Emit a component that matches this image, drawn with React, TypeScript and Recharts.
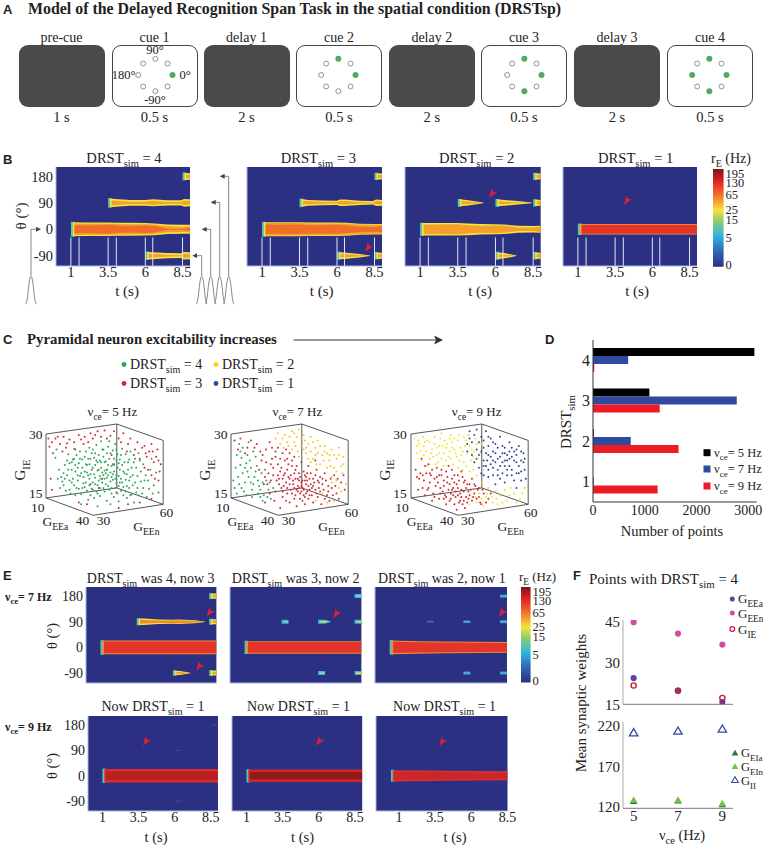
import React from "react";
import { ComposedChart, ScatterChart, BarChart, Bar, Scatter, Area, XAxis, YAxis, ReferenceLine, CartesianGrid } from "recharts";

const SERIF = "'Liberation Serif', serif";
const SANS = "'Liberation Sans', sans-serif";
const NAVY = "#2b3083";
const AXIS_BLUE = "#a9b6df";

/* ---------- Panel A ---------- */
const taskLabels = ["pre-cue", "cue 1", "delay 1", "cue 2", "delay 2", "cue 3", "delay 3", "cue 4"];
const taskDurations = ["1 s", "0.5 s", "2 s", "0.5 s", "2 s", "0.5 s", "2 s", "0.5 s"];
const taskDark = [true, false, true, false, true, false, true, false];
const boxLefts = [18.5, 111.5, 203.5, 296, 388.8, 481, 574, 667];
const ringAngles = [0, 45, 90, 135, 180, 225, 270, 315];
const ringX = [1, 0.71, 0, -0.71, -1, -0.71, 0, 0.71];
const ringY = [0, 0.71, 1, 0.71, 0, -0.71, -1, -0.71];
const cueActive = [[0], [0, 90], [0, 90, 270], [0, 90, 270, 180]];
const cueCenters = [155, 338.5, 524, 709];

/* ---------- Heatmaps ---------- */
type Tr = { th: number; t: number[]; o: number[]; i?: number[]; c?: number[]; of?: string; if?: string; edge?: string };
const tickT = [1, 3.5, 6, 8.5];
const tickTheta = [-90, 0, 90, 180];
const cueLines = [1, 1.55, 3.5, 4.05, 6, 6.5, 8.5];

const Y = "#f6e23c"; const O = "#f5a02c"; const R = "#e4352a"; const C = "#42aede"; const G = "#5cc4a8";

const b4: Tr[] = [
  { th: 0, t: [1.1, 2, 3.5, 4.2, 5, 6, 6.6, 7.5, 8.5, 9], o: [24, 23, 23, 22, 22, 21, 20, 16, 15, 15], i: [20, 19, 19, 18, 17, 17, 16, 10, 9, 10], c: [14, 13, 15, 12, 11, 13, 11, 2, 2, 6], edge: G },
  { th: 90, t: [3.6, 4, 5, 6, 6.5, 7.5, 8.4, 8.6, 9], o: [15, 13, 10, 10, 12, 9, 9, 13, 12], i: [8, 7, 4, 4, 7, 3, 3, 7, 6], edge: G },
  { th: -90, t: [6.1, 6.5, 7.5, 8.4, 8.6, 9], o: [13, 12, 9, 8, 13, 12], i: [7, 6, 3, 2, 7, 6], edge: G },
  { th: 180, t: [8.6, 9], o: [12, 11], i: [6, 5], edge: G },
];
const b3: Tr[] = [
  { th: 0, t: [1.1, 2, 3.5, 4.2, 5, 6, 6.6, 7.5, 8.5, 9], o: [24, 24, 24, 23, 23, 23, 22, 19, 18, 18], i: [21, 21, 21, 20, 20, 20, 19, 16, 15, 15], c: [16, 15, 16, 14, 14, 15, 13, 9, 8, 10], edge: G },
  { th: 90, t: [3.6, 4.1, 5, 6, 6.2, 6.5, 7.5, 8.4, 8.6, 9], o: [13, 10, 8, 7, 11, 11, 7, 6, 11, 10], i: [6, 5, 3, 2, 6, 6, 2, 1, 5, 5], edge: G },
  { th: -90, t: [6.1, 6.5, 7.5, 8.2], o: [12, 11, 6, 1], i: [6, 5, 2, 0], edge: G },
  { th: -90, t: [8.6, 9], o: [11, 10], i: [5, 5], edge: G },
  { th: 180, t: [8.6, 9], o: [11, 10], i: [5, 5], edge: G },
];
const b2: Tr[] = [
  { th: 0, t: [1.1, 2, 3.5, 4.2, 5, 6, 6.6, 7.5, 8.5, 9], o: [21, 21, 21, 20, 18, 17, 16, 12, 11, 12], i: [16, 16, 17, 14, 12, 13, 12, 6, 6, 9], edge: G },
  { th: 90, t: [3.6, 4.2, 5.2], o: [12, 9, 1], i: [6, 4, 0], edge: G },
  { th: 90, t: [6.1, 6.6, 7.5, 8.4], o: [12, 10, 6, 1], i: [6, 4, 1, 0], edge: G },
  { th: 90, t: [8.6, 9], o: [11, 10], i: [5, 5], edge: G },
  { th: -90, t: [6.1, 6.6, 7.4], o: [12, 9, 1], i: [6, 3, 0], edge: G },
  { th: -90, t: [8.6, 9], o: [11, 10], i: [5, 5], edge: G },
  { th: 180, t: [8.6, 9], o: [11, 10], i: [5, 5], edge: G },
];
const b1: Tr[] = [{ th: 0, t: [1.1, 9], o: [18, 18], i: [15, 15], of: "#f6a030", if: R, edge: G }];

const e43: Tr[] = [
  { th: 0, t: [1.1, 9], o: [24, 24], i: [21, 21], of: "#f08a30", if: R, edge: G },
  { th: 90, t: [3.6, 4, 5, 6, 6.4, 7.5, 8.2], o: [11, 11, 8, 7, 8, 5, 1], i: [7, 6, 4, 4, 5, 3, 0], of: Y, if: "#f08a30", edge: G },
  { th: 90, t: [8.6, 9], o: [9, 9], i: [4, 4], edge: G },
  { th: -90, t: [6.1, 6.5, 7.2], o: [8, 7, 1], i: [4, 4, 0], edge: G },
  { th: -90, t: [8.6, 9], o: [9, 9], i: [4, 4], edge: G },
  { th: 180, t: [8.6, 9], o: [9, 9], i: [4, 4], edge: G },
];
const e32: Tr[] = [
  { th: 0, t: [1.1, 9], o: [22, 22], i: [19, 19], of: "#f08a30", if: R, edge: G },
  { th: 90, t: [3.5, 4], o: [7, 7], i: [3, 3], of: C, if: "#7fd4c0" },
  { th: 90, t: [6, 6.5, 6.9], o: [7, 7, 1], i: [3, 3, 0], of: C, if: "#d8e040" },
  { th: 90, t: [8.5, 9], o: [7, 7], i: [3, 3], of: C, if: "#d8e040" },
  { th: -90, t: [6, 6.5], o: [7, 7], i: [3, 3], of: C, if: "#7fd4c0" },
  { th: -90, t: [8.5, 9], o: [7, 7], i: [3, 3], of: C, if: "#d8e040" },
  { th: 180, t: [8.5, 9], o: [7, 7], i: [3, 3], of: C, if: "#7fd4c0" },
];
const e21: Tr[] = [
  { th: 0, t: [1.1, 3, 5, 7, 9], o: [24, 22, 21, 20, 19], i: [20, 18, 17, 16, 15], of: "#f08a30", if: R, edge: G },
  { th: 90, t: [3.5, 4], o: [4, 4], of: "#3a62b4" },
  { th: 90, t: [6, 6.5], o: [4, 4], of: C },
  { th: 90, t: [8.5, 9], o: [5, 5], of: C },
  { th: -90, t: [6, 6.5], o: [5, 5], of: C },
  { th: -90, t: [8.5, 9], o: [5, 5], of: C },
  { th: 180, t: [8.5, 9], o: [5, 5], of: C },
];
const n1: Tr[] = [
  { th: 0, t: [1.1, 9], o: [24, 24], i: [15, 15], of: "#dd2a2a", if: "#b82022", edge: G },
  { th: 90, t: [6, 6.5], o: [2, 2], of: "#3a4a9e" },
  { th: 180, t: [8.5, 9], o: [2, 2], of: "#3a4a9e" },
  { th: -90, t: [6, 6.5], o: [2, 2], of: "#3a4a9e" },
];
const n2: Tr[] = [{ th: 0, t: [1.1, 9], o: [22, 22], i: [13, 13], of: "#cf2628", if: "#8f1a1c", edge: G }];
const n3: Tr[] = [{ th: 0, t: [0.55, 3, 6, 8.5], o: [20, 19, 17, 16], i: [14, 14, 12, 11], of: "#e03030", if: "#cc2629", edge: G }];

const colorStops: [number, string][] = [[0, "#7c1418"], [0.12, "#e01f26"], [0.27, "#f4722a"], [0.42, "#f8e33a"], [0.53, "#8fcf6a"], [0.68, "#2fb6e0"], [0.83, "#2f6db8"], [1, "#2a2f84"]];
const cbPositions = [95.6, 85.7, 73.4, 58, 47.8, 29.4, 1.7];
const cbLabels = ["195", "130", "65", "25", "15", "5", "0"];
const cbExtent = [{ x: 0, top: 100 }, { x: 1, top: 100 }];

/* ---------- Panel C ---------- */
type P = [number, number];
const cubeEdges: [P, P][] = [
  [[0, 89], [60.4, 100]], [[60.4, 100], [100, 82]], [[60.4, 100], [60.4, 30]], [[60.4, 30], [0, 19]], [[60.4, 30], [100, 12]],
  [[0, 19], [40.3, 0]], [[40.3, 0], [100, 12]], [[100, 82], [100, 12]],
];
const cubeThickEdge: [P, P] = [[0, 89], [0, 19]];
const cube1Red: P[] = [[5,80],[8,84],[12,78],[15,86],[20,83],[24,80],[28,88],[6,68],[17,74],[33,86],[38,90],[44,92],[50,93],[58,92],[66,90],[72,84],[78,80],[84,76],[90,78],[95,72],[88,70],[82,74],[76,72],[92,58],[97,48],[93,40],[87,50],[70,78],[62,84],[55,87],[47,86],[40,84],[32,78],[25,72],[52,50],[45,30],[60,25],[35,12],[28,14],[70,12],[62,8],[80,14],[90,18],[4,40],[5,28],[10,86],[3,75],[14,70],[75,66],[86,64],[96,60],[2,84],[18,79],[30,83],[36,80],[94,64],[91,70],[85,68],[80,62],[98,56],[96,38],[90,44],[84,52],[69,70],[64,80],[42,88],[52,84],[58,56],[48,40],[38,34],[56,66]];
const cube1Green: P[] = [[12,30],[18,44],[23,61],[9,72],[27,38],[31,52],[35,27],[29,70],[41,63],[38,45],[44,33],[47,58],[52,41],[49,72],[56,24],[58,55],[61,67],[54,81],[63,36],[66,48],[69,19],[71,61],[74,33],[77,52],[82,24],[85,44],[90,62],[16,55],[21,24],[25,48],[33,64],[36,17],[40,52],[43,77],[46,21],[50,49],[53,32],[57,71],[60,44],[64,27],[67,58],[72,42],[79,68],[14,37],[19,67],[24,33],[28,57],[32,42],[37,74],[39,29],[42,41],[45,66],[48,36],[51,59],[55,47],[59,30],[62,15],[65,73],[68,39],[73,23],[76,62],[81,37],[88,29],[94,47],[11,50],[17,27],[22,50],[26,66],[30,23],[34,36],[37,56],[41,19],[44,49],[47,81],[50,26],[54,62],[57,39],[61,52],[66,31],[70,50],[75,14],[83,56],[8,63],[20,38],[24,73],[28,29],[31,61],[35,47],[39,68],[43,26],[46,43],[49,64],[52,16],[56,54],[59,78],[63,61],[68,26],[72,70],[78,43],[86,20],[92,33],[15,46],[22,58],[27,44],[33,31],[36,62],[40,36],[44,58],[48,47],[52,68],[55,37],[58,20],[62,43],[65,55],[71,30],[80,60],[96,25],[13,42],[20,57],[26,30],[30,46],[34,70],[38,22],[42,55],[46,30],[50,40],[53,75],[57,45],[60,60],[64,40],[68,67],[73,52],[78,30],[84,38],[30,12],[44,10],[55,12],[10,40],[15,33],[19,50],[23,40],[25,55],[29,43],[32,35],[35,55],[37,40],[40,28],[41,45],[43,60],[45,38],[47,52],[49,30],[51,46],[53,55],[54,28],[56,42],[58,62],[60,35],[61,24],[63,50],[65,36],[67,46],[69,32],[70,58],[72,22],[74,44],[76,36],[79,22],[81,48],[83,30],[87,38],[89,50],[91,24],[25,22],[33,48],[37,33],[39,50],[42,34],[46,60],[48,72],[51,34],[52,50],[55,68],[58,48],[60,72],[62,32],[64,66],[66,22],[69,45],[71,38],[75,58],[77,25],[38,62],[36,44],[34,56],[31,30],[29,62],[27,52],[24,62],[22,36],[20,28],[18,60],[16,40],[47,40],[44,24],[42,68],[40,72],[62,57],[59,40],[57,56],[56,30],[53,44],[50,58],[49,44],[45,50]];
const cube2Green: P[] = [[3,30],[6,42],[8,55],[5,66],[10,74],[12,36],[14,48],[16,60],[18,28],[20,42],[22,54],[24,32],[26,46],[11,26],[9,63],[15,80],[7,78],[19,70],[28,22],[30,38],[32,28],[34,18],[23,24],[17,36],[13,57],[4,52],[21,64],[25,20],[29,50],[36,30],[2,38],[7,34],[10,46],[12,52],[15,42],[17,52],[19,34],[21,48],[23,38],[25,28],[27,36],[8,70],[14,66],[31,20],[27,16],[5,24],[9,30],[13,22],[18,20],[33,36]];
const cube2Red: P[] = [[8,84],[14,74],[22,78],[27,66],[33,80],[38,70],[30,58],[36,52],[42,62],[48,50],[44,40],[50,34],[54,46],[58,38],[61,30],[64,42],[57,26],[62,22],[68,34],[72,28],[66,18],[74,20],[78,34],[82,22],[86,30],[90,24],[94,36],[88,44],[80,46],[73,50],[66,54],[60,58],[54,64],[47,72],[40,44],[34,38],[38,26],[44,20],[50,14],[56,10],[42,8],[48,24],[54,30],[60,36],[65,26],[70,14],[77,12],[84,16],[92,18],[97,28],[96,44],[76,42],[70,40],[64,34],[58,46],[52,54],[46,60],[41,34],[37,16],[32,46],[28,34],[24,50],[26,60],[35,62],[43,52],[49,42],[55,22],[59,18],[63,12],[68,46],[72,60],[62,48],[57,32],[51,28],[45,32],[39,38],[33,24],[29,14],[67,28],[75,30],[81,38],[87,22],[60,26],[63,38],[61,16],[53,38],[47,16],[69,22],[56,54],[50,68],[17,82],[12,68],[6,72],[3,82],[40,56],[42,48],[45,44],[47,36],[49,56],[51,44],[53,34],[55,40],[56,28],[58,30],[59,42],[60,32],[62,28],[63,44],[64,24],[65,38],[66,32],[67,40],[69,30],[71,36],[73,24],[74,38],[76,26],[79,28],[80,18],[83,32],[85,40],[89,32],[91,40],[38,64],[41,40],[43,30],[44,26],[46,46],[48,30],[50,40],[52,24],[54,18],[55,50],[57,40],[59,24],[61,38],[63,20],[65,46],[67,22],[70,32],[72,44],[75,36],[78,40],[83,26],[36,44],[34,56],[31,34],[29,42],[25,70],[20,74],[30,72],[35,74],[44,68],[48,62],[52,60],[40,74]];
const cube2Yellow: P[] = [[40,90],[46,88],[52,92],[58,94],[62,88],[68,86],[74,82],[80,76],[86,72],[92,74],[96,64],[90,62],[84,60],[78,66],[72,74],[66,78],[60,76],[54,80],[48,80],[42,78],[64,68],[70,62],[76,56],[82,52],[88,52],[94,54],[58,64],[52,72],[66,62],[74,68],[82,68],[44,84],[56,86],[90,38],[86,42],[78,24],[94,26],[50,86],[55,76],[60,84],[64,74],[68,70],[72,66],[76,76],[80,70],[84,66],[88,66],[92,66],[96,56],[85,54],[79,60],[73,56],[68,58],[62,72],[57,70],[49,76],[45,74],[38,84],[70,80],[63,82],[54,90],[90,48],[95,46],[98,34],[92,30],[86,36],[82,14],[88,16],[72,16]];
const cube3Yellow: P[] = [[3,84],[7,78],[10,86],[13,70],[16,80],[19,64],[22,74],[25,84],[28,68],[31,78],[34,88],[37,72],[40,82],[43,66],[46,76],[49,88],[52,72],[55,84],[5,68],[9,60],[14,54],[18,72],[23,58],[27,76],[30,60],[33,70],[36,56],[39,64],[42,74],[45,58],[48,68],[51,60],[54,70],[57,62],[60,78],[26,90],[20,86],[12,80],[35,80],[44,50],[50,48],[56,44],[60,36],[62,50],[58,24],[64,20],[70,14],[76,22],[82,16],[88,24],[93,18],[97,30],[80,28],[72,26],[66,30],[50,12],[56,14],[62,10],[74,12],[85,30],[5,76],[8,70],[11,76],[14,82],[17,68],[20,78],[22,66],[24,76],[26,62],[29,82],[32,64],[35,74],[38,68],[41,60],[44,70],[47,82],[50,76],[53,64],[56,78],[59,68],[30,74],[33,84],[37,84],[41,88],[45,86],[24,68],[21,56],[16,62],[11,66],[6,82],[28,54],[34,62],[40,52],[47,54],[53,50],[65,24],[69,20],[73,18],[78,14],[84,22],[90,14],[95,24],[60,18],[55,20]];
const cube3Blue: P[] = [[50,92],[56,94],[60,86],[64,92],[68,84],[72,78],[76,86],[80,74],[84,80],[88,70],[92,76],[96,68],[62,74],[66,66],[70,70],[74,62],[78,68],[82,60],[86,64],[90,58],[94,60],[97,50],[92,46],[86,50],[80,54],[74,50],[68,56],[62,60],[56,72],[52,80],[58,66],[64,54],[70,44],[76,40],[82,44],[88,38],[94,38],[98,40],[78,58],[72,68],[66,76],[84,70],[90,66],[60,46],[66,42],[54,58],[48,70],[72,34],[80,36],[90,30],[54,88],[58,80],[62,82],[66,86],[70,80],[74,74],[78,76],[82,66],[86,74],[90,72],[94,70],[96,58],[92,54],[88,60],[84,54],[80,60],[76,54],[72,58],[68,64],[64,68],[60,70],[56,62],[52,66],[58,52],[62,44],[66,50],[70,52],[74,44],[78,46],[82,50],[86,44],[90,46],[94,48],[84,62],[80,68],[76,64],[70,60],[65,60],[62,54],[48,78],[50,84],[97,62]];
const cube3Red: P[] = [[4,50],[7,40],[10,30],[13,46],[16,36],[19,24],[22,42],[25,30],[28,18],[31,36],[34,24],[37,12],[40,30],[43,20],[46,8],[49,26],[52,16],[55,32],[58,20],[61,28],[64,14],[22,52],[26,44],[30,48],[35,40],[40,44],[45,36],[50,34],[15,56],[9,62],[6,28],[12,22],[18,16],[24,18],[30,12],[36,30],[42,24],[48,14],[54,24],[60,12],[38,20],[33,16],[27,26],[21,32],[17,44],[11,38],[44,42],[52,40],[47,30],[41,14],[57,28],[35,50],[28,38],[14,28],[68,24],[39,6],[45,16],[50,22],[8,46],[12,54],[15,30],[18,50],[20,20],[23,36],[25,24],[26,50],[28,32],[29,22],[31,42],[32,28],[33,34],[34,18],[35,28],[36,22],[37,36],[38,26],[39,34],[40,22],[41,38],[42,16],[43,28],[44,12],[45,26],[46,38],[47,20],[48,34],[49,18],[51,28],[53,20],[54,34],[56,18],[58,30],[59,14],[62,24],[66,18],[24,44],[20,40],[30,20],[37,44],[43,48],[16,46],[10,44],[5,42],[32,54]];

/* ---------- Panel D ---------- */
const dCats = ["4", "3", "2", "1"];
const d5Hz = [3120, 1090, 15, 0];
const d7Hz = [680, 2780, 730, 15];
const d9Hz = [25, 1290, 1655, 1250];
const dRows = dCats.map((c, i) => ({ c, a: d5Hz[i], b: d7Hz[i], d: d9Hz[i] }));

/* ---------- Panel F ---------- */
const vce = [5, 7, 9];
const gEEa = [24.5, 20, 15.8];
const gEEn = [44.7, 40.6, 36.6];
const gIE = [21.8, 19.9, 17.3];
const gII = [211.5, 213.5, 216];
const gEIa = [127, 127.5, 123];
const gEIn = [128.5, 128.5, 124];
const zip = (ys: number[]) => vce.map((x, i) => ({ x, y: ys[i] }));

/* ---------- helpers ---------- */
const tickStyle = (fontSize: number) => ({ fontSize, fill: "#222", fontFamily: SERIF });

function traceRows(t: number[], th: number, h: number[]) {
  return t.map((x, k) => ({ t: x, range: [th - h[k], th + h[k]] }));
}

function traceAreas(traces: Tr[]) {
  const out: React.ReactNode[] = [];
  const area = (key: string, data: any[], fill: string) => (
    <Area key={key} data={data} dataKey="range" type="linear" fill={fill} fillOpacity={1} stroke="none" dot={false} activeDot={false} isAnimationActive={false} />
  );
  traces.forEach((tr, n) => {
    const t0 = tr.t[0];
    if (tr.edge) {
      const h0 = tr.o[0] + 1.5;
      out.push(area(`e${n}`, traceRows([t0 - 0.1, t0 + 0.14], tr.th, [h0, h0]), tr.edge));
    }
    const shifted = tr.t.map((x, k) => (k === 0 ? x + 0.03 : x));
    out.push(area(`o${n}`, traceRows(shifted, tr.th, tr.o), tr.of ?? Y));
    const inner = tr.t.map((x, k) => (k === 0 ? x + 0.14 : x));
    if (tr.i) out.push(area(`i${n}`, traceRows(inner, tr.th, tr.i), tr.if ?? O));
    if (tr.c) out.push(area(`c${n}`, traceRows(inner, tr.th, tr.c), "#ee6e2a"));
  });
  return out;
}

function Heat({ l, t, w, h, traces, xTicks, yTicks, lines, xDomain = [0, 9], fs = 14.5 }: any) {
  const yW = 40, xH = 26, right = 14;
  return (
    <div style={{ position: "absolute", left: l - yW, top: t }}>
      <ComposedChart width={w + yW + right} height={h + xH} margin={{ top: 0, right, bottom: 0, left: 0 }}>
        <CartesianGrid horizontal={false} vertical={false} fill={NAVY} />
        <XAxis type="number" dataKey="t" domain={xDomain} allowDataOverflow ticks={tickT} interval={0} height={xH} tick={xTicks ? tickStyle(fs) : false} tickLine={false} tickSize={0} tickMargin={1} axisLine={{ stroke: AXIS_BLUE }} />
        <YAxis type="number" domain={[-125, 212]} allowDataOverflow ticks={tickTheta} interval={0} width={yW} tick={yTicks ? tickStyle(fs) : false} tickLine={false} tickSize={0} tickMargin={3} axisLine={{ stroke: AXIS_BLUE }} />
        {traceAreas(traces)}
        {lines && cueLines.map((x) => (
          <ReferenceLine key={x} segment={[{ x, y: -125 }, { x, y: -28 }]} stroke="#dfe6f7" strokeWidth={1} ifOverflow="visible" />
        ))}
      </ComposedChart>
    </div>
  );
}

function ColorBar({ l, t, w, h, fs }: any) {
  const pad = 8;
  return (
    <div style={{ position: "absolute", left: l, top: t - pad }}>
      <ComposedChart width={w + 30} height={h + 2 * pad} margin={{ top: pad, right: 0, bottom: pad, left: 0 }} data={cbExtent}>
        <XAxis hide type="number" dataKey="x" domain={[0, 1]} />
        <YAxis orientation="right" type="number" domain={[0, 100]} ticks={cbPositions} interval={0} width={30} tickFormatter={(v: number) => cbLabels[cbPositions.indexOf(v)]} tick={tickStyle(fs)} tickLine={false} tickSize={0} axisLine={false} tickMargin={2} />
        <Area dataKey="top" type="linear" fill="url(#cbGrad)" fillOpacity={1} stroke="none" dot={false} activeDot={false} isAnimationActive={false} />
      </ComposedChart>
    </div>
  );
}

function Cube({ l, t, groups }: any) {
  const W = 117.2, H = 91.3, m = 3;
  const dot = (fill: string) => (p: any) => <circle cx={p.cx} cy={p.cy} r={1} fill={fill} />;
  return (
    <div style={{ position: "absolute", left: l - m, top: t - m }}>
      <ScatterChart width={W + 2 * m} height={H + 2 * m} margin={{ top: m, right: m, bottom: m, left: m }}>
        <XAxis hide type="number" dataKey="x" domain={[0, 100]} />
        <YAxis hide type="number" dataKey="y" domain={[0, 100]} />
        <ReferenceLine segment={[{ x: cubeThickEdge[0][0], y: cubeThickEdge[0][1] }, { x: cubeThickEdge[1][0], y: cubeThickEdge[1][1] }]} stroke="#aaa" strokeWidth={2} ifOverflow="visible" />
        {cubeEdges.map(([a, b], i) => (
          <ReferenceLine key={i} segment={[{ x: a[0], y: a[1] }, { x: b[0], y: b[1] }]} stroke="#444" strokeWidth={0.9} ifOverflow="visible" />
        ))}
        {groups.map(([pts, color]: [P[], string], i: number) => (
          <Scatter key={i} data={pts.map(([x, y]) => ({ x, y }))} fill={color} shape={dot(color)} isAnimationActive={false} />
        ))}
      </ScatterChart>
    </div>
  );
}

const triPath = (cx: number, cy: number, r: number) => `M${cx},${cy - r}L${cx + r * 1.05},${cy + r * 0.8}L${cx - r * 1.05},${cy + r * 0.8}Z`;
const fCircle = (fill: string) => (p: any) => <circle cx={p.cx} cy={p.cy} r={3.1} fill={fill} />;
const fRing = (stroke: string) => (p: any) => <circle cx={p.cx} cy={p.cy} r={2.6} fill="none" stroke={stroke} strokeWidth={1.4} />;
const fTri = (fill: string) => (p: any) => <path d={triPath(p.cx, p.cy, 3.6)} fill={fill} />;
const fTriHollow = (stroke: string) => (p: any) => <path d={triPath(p.cx, p.cy, 4)} fill="none" stroke={stroke} strokeWidth={1.3} />;

function Sub({ x, y, b, s, r = "", size = 15, anchor = "middle", rot, weight }: any) {
  return (
    <text x={x} y={y} fontSize={size} fontFamily={SERIF} fill="#222" textAnchor={anchor} fontWeight={weight} transform={rot ? `rotate(${rot} ${x} ${y})` : undefined}>
      {b}
      <tspan dy={size * 0.28} fontSize={size * 0.72}>{s}</tspan>
      <tspan dy={-size * 0.28}>{r}</tspan>
    </text>
  );
}
const Txt = ({ x, y, c, size = 15, anchor = "middle", rot, weight, fam = SERIF }: any) => (
  <text x={x} y={y} fontSize={size} fontFamily={fam} fill="#222" textAnchor={anchor} fontWeight={weight} transform={rot ? `rotate(${rot} ${x} ${y})` : undefined}>{c}</text>
);
const Letter = ({ x, y, c }: any) => <Txt x={x} y={y} c={c} size={13} anchor="start" weight="bold" fam={SANS} />;
const RedHead = ({ x, y }: any) => (
  <path transform={`translate(${x} ${y}) rotate(35)`} d="M0,5 L-3.4,-4.4 L0,-2.4 L3.4,-4.4 Z" fill="#d91f3c" />
);
const bump = (cx: number) => `M${cx - 5.5},304 C${cx - 3},304 ${cx - 2.5},276.5 ${cx},276.5 C${cx + 2.5},276.5 ${cx + 3},304 ${cx + 5.5},304`;

const arrowsB = [
  { x: 31, y: 229.3, to: 40 },
  { x: 201.7, y: 255.7, to: 193.3 },
  { x: 210.7, y: 229.3, to: 202.7 },
  { x: 219.7, y: 202.3, to: 211.7 },
  { x: 228.7, y: 176.3, to: 220.7 },
];
const redHeadsAt = [[368, 247.7], [491.7, 194], [626.7, 201], [209.6, 612.7], [199, 666.7], [336, 614], [501.8, 612.7], [145.7, 741.7], [319, 741.7], [442, 742]];

const bTitles = [["4", 124], ["3", 318.3], ["2", 476.7], ["1", 635.7]];
const bCenters = [127, 321.7, 480, 637];
const e1Titles = [["DRST", "sim", " was 4, now 3", 150.7], ["DRST", "sim", " was 3, now 2", 295.7], ["DRST", "sim", " was 2, now 1", 441.8]];
const e2Centers = [152.9, 298.6, 444.6];
const e2Xlabels = [156, 302.5, 455];

const cubes = [
  { l: 46.4, title: "5", groups: [[cube1Red, "#cf2a32"], [cube1Green, "#28a858"]] },
  { l: 231.4, title: "7", groups: [[cube2Green, "#28a858"], [cube2Yellow, "#f5c422"], [cube2Red, "#cf2a32"]] },
  { l: 410.7, title: "9", groups: [[cube3Blue, "#33449c"], [cube3Yellow, "#f8e02a"], [cube3Red, "#cf2a32"]] },
];

export default function App() {
  const dDark = "#333";
  return (
    <div style={{ position: "absolute", left: 0, top: 0, width: 763, height: 846, background: "#fff", overflow: "hidden" }}>
      {/* Panel A boxes */}
      {boxLefts.map((x, i) => (
        <div key={i} style={{ position: "absolute", left: x, top: 45, width: 86, height: 61.5, boxSizing: "border-box", borderRadius: 9, background: taskDark[i] ? "#4a4a4a" : "#fff", border: taskDark[i] ? "none" : "1px solid #444" }} />
      ))}
      {cueCenters.map((cx, i) => {
        const rows = ringAngles.map((a, k) => ({ x: ringX[k], y: ringY[k], on: cueActive[i].includes(a) }));
        const W = 44.7, H = 42;
        const shape = (p: any) => p.on
          ? <circle cx={p.cx} cy={p.cy} r={3} fill="#57a85c" />
          : <circle cx={p.cx} cy={p.cy} r={2.5} fill="#fff" stroke="#777" strokeWidth={0.8} />;
        return (
          <div key={i} style={{ position: "absolute", left: cx - W / 2, top: 75.3 - H / 2 }}>
            <ScatterChart width={W} height={H} margin={{ top: 0, right: 0, bottom: 0, left: 0 }}>
              <XAxis hide type="number" dataKey="x" domain={[-1.3, 1.3]} />
              <YAxis hide type="number" dataKey="y" domain={[-1.3, 1.3]} />
              <Scatter data={rows} shape={shape} isAnimationActive={false} />
            </ScatterChart>
          </div>
        );
      })}

      {/* Panel B */}
      <Heat l={56} t={167} w={134} h={99} traces={b4} xTicks yTicks lines />
      <Heat l={247} t={167} w={135} h={99} traces={b3} xTicks lines />
      <Heat l={405} t={167} w={135.7} h={99} traces={b2} xTicks lines />
      <Heat l={563.3} t={167} w={134} h={99} traces={b1} xTicks lines />
      <ColorBar l={712.7} t={169} w={10.6} h={97.7} fs={12.5} />

      {/* Panel C */}
      {cubes.map((c, i) => <Cube key={i} l={c.l} t={423.7} groups={c.groups} />)}

      {/* Panel D */}
      <div style={{ position: "absolute", left: 573.3, top: 340 }}>
        <BarChart width={189.7} height={192} layout="vertical" data={dRows} barSize={8} barGap={0} margin={{ top: 0, right: 6, bottom: 0, left: 0 }}>
          <XAxis type="number" domain={[0, 3165]} allowDataOverflow ticks={[0, 1000, 2000, 3000]} interval={0} height={30} tick={tickStyle(14)} tickLine={false} tickSize={0} tickMargin={3} axisLine={{ stroke: dDark }} />
          <YAxis type="category" dataKey="c" width={20} tick={tickStyle(16)} tickLine={false} tickSize={0} tickMargin={3} axisLine={{ stroke: dDark }} />
          <Bar dataKey="a" fill="#000" isAnimationActive={false} />
          <Bar dataKey="b" fill="#2f4b9f" isAnimationActive={false} />
          <Bar dataKey="d" fill="#ed1c24" isAnimationActive={false} />
        </BarChart>
      </div>

      {/* Panel E */}
      <Heat l={86} t={586.7} w={130.4} h={96} traces={e43} yTicks fs={14} />
      <Heat l={229.6} t={586.7} w={131.4} h={96} traces={e32} />
      <Heat l={375} t={586.7} w={132} h={96} traces={e21} />
      <ColorBar l={521.4} t={587.3} w={9.6} h={95.4} fs={12.5} />
      <Heat l={87.9} t={716} w={130} h={95} traces={n1} xTicks yTicks fs={14} />
      <Heat l={231.8} t={716} w={130.2} h={95} traces={n2} xTicks fs={14} />
      <Heat l={376.4} t={716} w={131.5} h={95} traces={n3} xTicks xDomain={[-0.58, 8.5]} fs={14} />

      {/* Panel F */}
      <div style={{ position: "absolute", left: 593.3, top: 610 }}>
        <ScatterChart width={140} height={106.3} margin={{ top: 10, right: 0, bottom: 0, left: 0 }}>
          <XAxis type="number" dataKey="x" domain={[4.52, 9.48]} ticks={vce} interval={0} height={12} tick={false} tickLine={false} axisLine={{ stroke: "#777" }} />
          <YAxis type="number" dataKey="y" domain={[15, 45.5]} allowDataOverflow ticks={[15, 30, 45]} interval={0} width={30} tick={tickStyle(15)} tickLine={false} tickSize={0} tickMargin={3} axisLine={{ stroke: "#aaa" }} />
          <Scatter data={zip(gEEa)} shape={fCircle("#66409e")} isAnimationActive={false} />
          <Scatter data={zip(gEEn)} shape={fCircle("#cf4f9f")} isAnimationActive={false} />
          <Scatter data={zip(gIE)} shape={fRing("#c81e3a")} isAnimationActive={false} />
        </ScatterChart>
      </div>
      <div style={{ position: "absolute", left: 593.3, top: 712 }}>
        <ScatterChart width={140} height={117.3} margin={{ top: 9.7, right: 0, bottom: 0, left: 0 }}>
          <XAxis type="number" dataKey="x" domain={[4.52, 9.48]} ticks={vce} interval={0} height={21} tick={tickStyle(15)} tickLine={false} tickSize={0} tickMargin={2} axisLine={{ stroke: "#777" }} />
          <YAxis type="number" dataKey="y" domain={[118, 225]} allowDataOverflow ticks={[120, 170, 220]} interval={0} width={30} tick={tickStyle(15)} tickLine={false} tickSize={0} tickMargin={3} axisLine={{ stroke: "#aaa" }} />
          <Scatter data={zip(gEIa)} shape={fTri("#1f7a44")} isAnimationActive={false} />
          <Scatter data={zip(gEIn)} shape={fTri("#79bf4a")} isAnimationActive={false} />
          <Scatter data={zip(gII)} shape={fTriHollow("#34479e")} isAnimationActive={false} />
        </ScatterChart>
      </div>

      {/* Text and annotations */}
      <svg width={763} height={846} style={{ position: "absolute", left: 0, top: 0, pointerEvents: "none" }}>
        <defs>
          <linearGradient id="cbGrad" x1="0" y1="0" x2="0" y2="1">
            {colorStops.map(([o, c], i) => <stop key={i} offset={o} stopColor={c} />)}
          </linearGradient>
          <marker id="ah" markerWidth="5" markerHeight="5" refX="4" refY="2.5" orient="auto">
            <path d="M0,0 L5,2.5 L0,5 Z" fill="#444" />
          </marker>
        </defs>

        <Letter x={3} y={14} c="A" />
        <Txt x={28} y={14} c="Model of the Delayed Recognition Span Task in the spatial condition (DRSTsp)" size={15.9} anchor="start" weight="bold" />
        {boxLefts.map((x, i) => (
          <g key={i}>
            <Txt x={x + 43} y={42} c={taskLabels[i]} size={14} />
            <Txt x={x + 43} y={122} c={taskDurations[i]} size={14.5} />
          </g>
        ))}
        <Txt x={155} y={54} c="90°" size={12.5} />
        <Txt x={123.5} y={79} c="180°" size={12.5} />
        <Txt x={185} y={79} c="0°" size={12.5} />
        <Txt x={155} y={104} c="-90°" size={12.5} />

        <Letter x={3} y={164} c="B" />
        {bTitles.map(([n, x]: any) => <Sub key={n} x={x} y={163} b="DRST" s="sim" r={` = ${n}`} size={14.6} />)}
        {bCenters.map((x) => <Txt key={x} x={x} y={296} c="t (s)" size={15} />)}
        <Txt x={26} y={216} c="θ (°)" size={15} rot={-90} />
        <Sub x={731} y={163} b="r" s="E" r=" (Hz)" size={14} />
        {arrowsB.map((a, i) => (
          <path key={i} d={`M${a.x},276 L${a.x},${a.y} L${a.to},${a.y}`} fill="none" stroke="#888" strokeWidth={1} markerEnd="url(#ah)" />
        ))}
        {[31, 201.7, 210.7, 219.7, 228.7].map((x) => <path key={x} d={bump(x)} fill="none" stroke="#777" strokeWidth={0.9} />)}

        <Letter x={3} y={344} c="C" />
        <Txt x={27} y={344} c="Pyramidal neuron excitability increases" size={14.8} anchor="start" weight="bold" />
        <path d="M293.6,340 L438,340" stroke="#333" strokeWidth={1} />
        <path d="M443,340 L434,335.5 L436,340 L434,344.5 Z" fill="#333" />
        <circle cx={124} cy={364.5} r={2.4} fill="#28a858" />
        <circle cx={124} cy={383.5} r={2.4} fill="#cf2a32" />
        <circle cx={216} cy={364.5} r={2.4} fill="#f8d020" />
        <circle cx={216} cy={383.5} r={2.4} fill="#33449c" />
        <Sub x={130} y={369} b="DRST" s="sim" r=" = 4" anchor="start" size={14} />
        <Sub x={130} y={388} b="DRST" s="sim" r=" = 3" anchor="start" size={14} />
        <Sub x={222} y={369} b="DRST" s="sim" r=" = 2" anchor="start" size={14} />
        <Sub x={222} y={388} b="DRST" s="sim" r=" = 1" anchor="start" size={14} />
        {cubes.map((c, i) => (
          <g key={i}>
            <Sub x={c.l + 66} y={416} b="ν" s="ce" r={`= ${c.title} Hz`} size={13} />
            <Txt x={c.l - 4} y={439} c="30" size={13.5} anchor="end" />
            <Txt x={c.l - 4} y={498} c="15" size={13.5} anchor="end" />
            <Txt x={c.l - 2} y={512} c="10" size={13.5} anchor="end" />
            <Sub x={c.l + 9} y={526} b="G" s="EEa" size={13.5} />
            <Txt x={c.l + 36} y={525} c="40" size={13.5} />
            <Txt x={c.l + 57} y={525} c="30" size={13.5} />
            <Sub x={c.l + 100} y={531} b="G" s="EEn" size={13.5} />
            <Txt x={c.l + 120} y={517} c="60" size={13.5} />
            <Sub x={c.l - 21} y={470} b="G" s="IE" size={15} rot={-90} />
          </g>
        ))}

        <Letter x={545} y={344} c="D" />
        <Sub x={571} y={422} b="DRST" s="sim" size={15} rot={-90} />
        <Txt x={672} y={536} c="Number of points" size={14.5} />
        {[["#000", 452.7, "5"], ["#2f4b9f", 469, "7"], ["#ed1c24", 486, "9"]].map(([col, y, hz]: any) => (
          <g key={hz}>
            <rect x={703.5} y={y - 3.5} width={7} height={7} fill={col} />
            <Sub x={714} y={y + 4} b="ν" s="ce" r={`= ${hz} Hz`} size={12.5} anchor="start" />
          </g>
        ))}

        <Letter x={3} y={580} c="E" />
        {e1Titles.map(([b, s, r, x]: any) => <Sub key={x} x={x} y={583} b={b} s={s} r={r} size={14} />)}
        {e2Centers.map((x) => <Sub key={x} x={x} y={711} b="Now DRST" s="sim" r=" = 1" size={14} />)}
        {e2Xlabels.map((x) => <Txt key={x} x={x} y={842} c="t (s)" size={14.5} />)}
        <Txt x={57} y={636} c="θ (°)" size={14.5} rot={-90} />
        <Txt x={57} y={766} c="θ (°)" size={14.5} rot={-90} />
        <Sub x={5} y={601} b="ν" s="ce" r="= 7 Hz" size={12} anchor="start" weight="bold" />
        <Sub x={5} y={731} b="ν" s="ce" r="= 9 Hz" size={12} anchor="start" weight="bold" />
        <Sub x={537.5} y={581} b="r" s="E" r=" (Hz)" size={13} />

        <Letter x={573} y={580} c="F" />
        <Sub x={589} y={584} b="Points with DRST" s="sim" r=" = 4" size={15} anchor="start" />
        <Txt x={586} y={703} c="Mean synaptic weights" size={15} rot={-90} />
        <Sub x={682} y={840} b="ν" s="ce" r=" (Hz)" size={14.5} />
        <circle cx={732.3} cy={599} r={2.5} fill="#66409e" />
        <circle cx={732.3} cy={613} r={2.5} fill="#cf4f9f" />
        <circle cx={732.3} cy={629} r={2.4} fill="none" stroke="#c81e3a" strokeWidth={1.2} />
        <Sub x={738} y={603} b="G" s="EEa" size={13} anchor="start" />
        <Sub x={738} y={618} b="G" s="EEn" size={13} anchor="start" />
        <Sub x={738} y={634} b="G" s="IE" size={13} anchor="start" />
        <path d={triPath(735, 753, 3.2)} fill="#1f7a44" />
        <path d={triPath(735, 766.5, 3.2)} fill="#79bf4a" />
        <path d={triPath(735, 780, 3.2)} fill="none" stroke="#34479e" strokeWidth={1.1} />
        <Sub x={741} y={757} b="G" s="EIa" size={12.5} anchor="start" />
        <Sub x={741} y={771} b="G" s="EIn" size={12.5} anchor="start" />
        <Sub x={741} y={785} b="G" s="II" size={12.5} anchor="start" />

        {redHeadsAt.map(([x, y], i) => <RedHead key={i} x={x} y={y} />)}
      </svg>
    </div>
  );
}
